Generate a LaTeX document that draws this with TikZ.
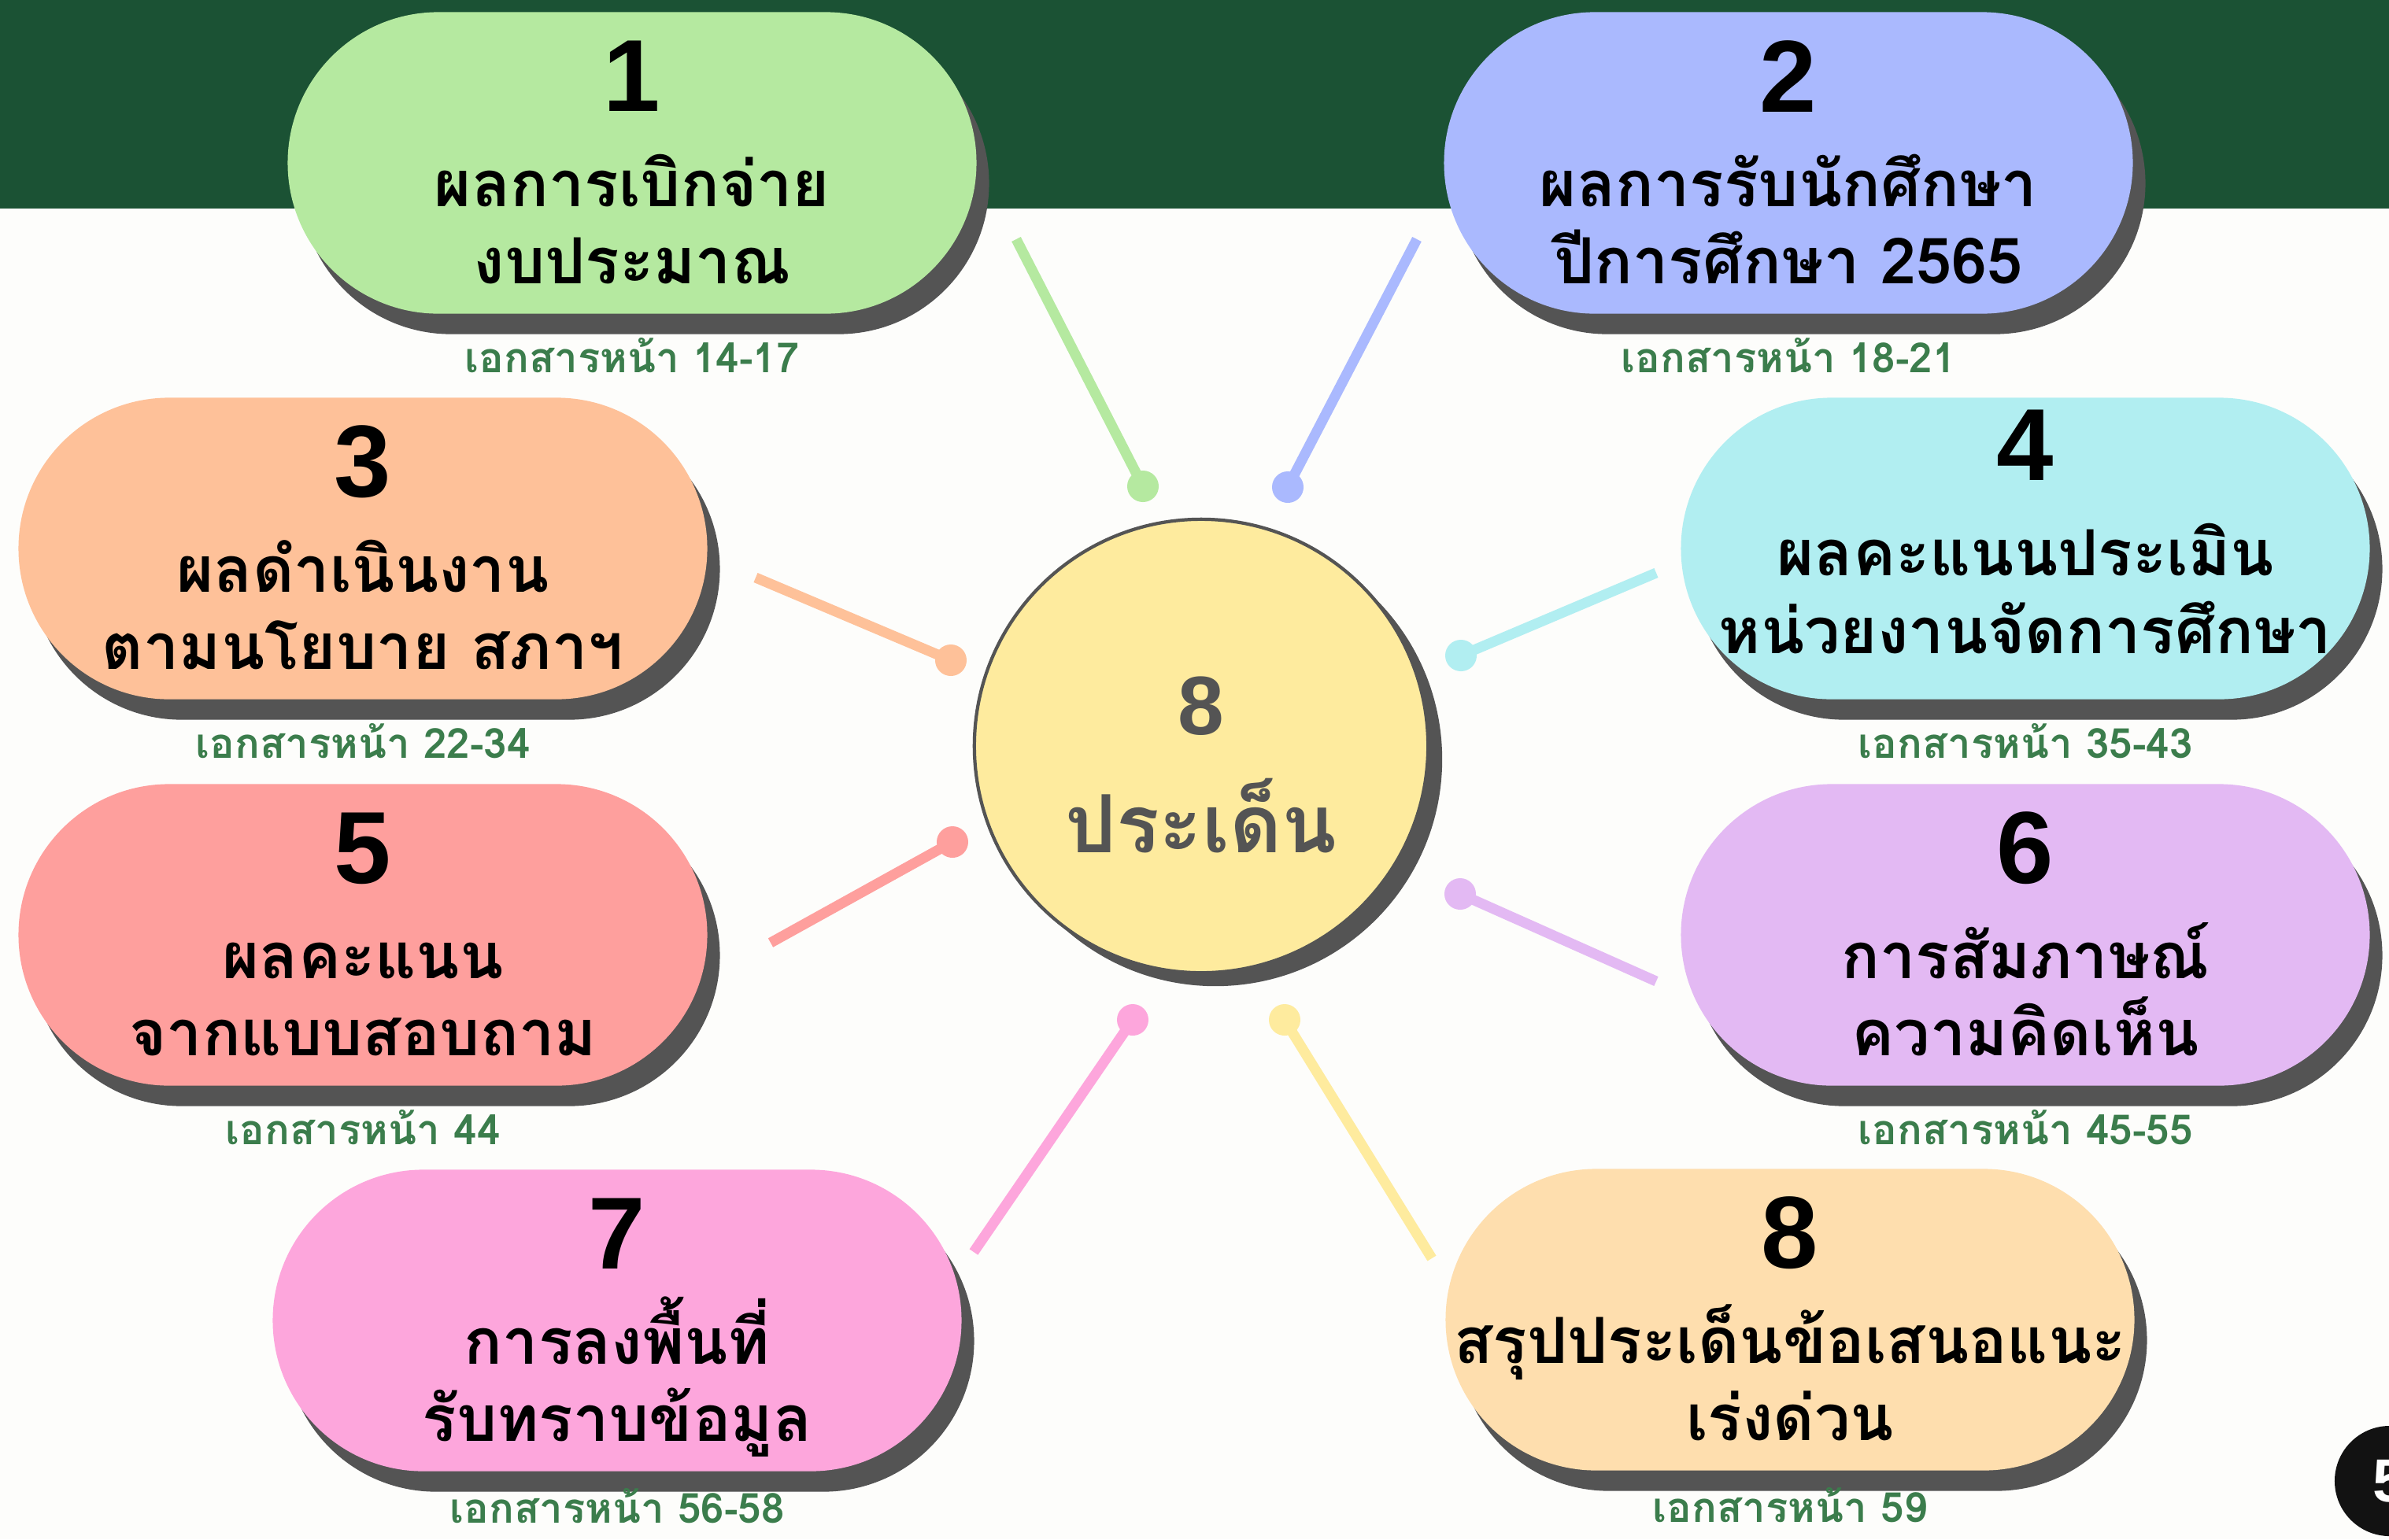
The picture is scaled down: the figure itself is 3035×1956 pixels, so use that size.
\documentclass[tikz,border=0pt]{standalone}
\usepackage{fontspec}
\setmainfont{Liberation Sans}
\newfontfamily\thaifont[Script=Thai]{Loma}
\usetikzlibrary{shapes.misc,shadows}

\definecolor{band}{HTML}{1B5234}
\definecolor{paper}{HTML}{FDFDFB}
\definecolor{shade}{HTML}{545454}
\definecolor{pagegreen}{HTML}{3B7D4C}
\definecolor{mint}{HTML}{B5E9A0}
\definecolor{periwinkle}{HTML}{AAB9FE}
\definecolor{apricot}{HTML}{FEC199}
\definecolor{aqua}{HTML}{B1EEF1}
\definecolor{salmon}{HTML}{FE9F9D}
\definecolor{lilac}{HTML}{E3B9F3}
\definecolor{candy}{HTML}{FDA6DC}
\definecolor{wheat}{HTML}{FEDEAE}
\definecolor{butter}{HTML}{FEEB9E}

\begin{document}
\begin{tikzpicture}[x=0.01cm,y=-0.01cm,
        pill/.style={rounded rectangle,minimum width=8.98cm,minimum height=3.83cm,
          drop shadow={shadow xshift=0.16cm,shadow yshift=-0.26cm,fill=shade,opacity=1}},
        num/.style={font=\bfseries\fontsize{37}{37}\selectfont},
        topic/.style={anchor=base,font=\thaifont\bfseries\fontsize{23}{23}\selectfont},
        page/.style={anchor=base,inner sep=0pt,text=pagegreen,font=\thaifont\bfseries\fontsize{15}{15}\selectfont},
        spoke/.style={line width=3.7pt},
        dot/.style={circle,minimum size=0.4cm,inner sep=0pt}]

  \useasboundingbox (0,0) rectangle (3035,1956);
  \clip (0,0) rectangle (3035,1956);
  \fill[paper] (0,0) rectangle (3035,1956);
  \fill[band] (0,0) rectangle (3035,265);

  % spokes
  \coordinate (e1) at (1291,304);
  \coordinate (e2) at (1800,304);
  \coordinate (e3) at (960,734);
  \coordinate (e4) at (2104,728);
  \coordinate (e5) at (979,1198);
  \coordinate (e6) at (2104,1247);
  \coordinate (e7) at (1237,1591);
  \coordinate (e8) at (1819,1599);
  \node[dot,fill=mint] (d1) at (1452,618) {};
  \node[dot,fill=periwinkle] (d2) at (1636,619) {};
  \node[dot,fill=apricot] (d3) at (1208,839) {};
  \node[dot,fill=aqua] (d4) at (1856,833) {};
  \node[dot,fill=salmon] (d5) at (1210,1070) {};
  \node[dot,fill=lilac] (d6) at (1855,1136) {};
  \node[dot,fill=candy] (d7) at (1439,1296) {};
  \node[dot,fill=butter] (d8) at (1632,1296) {};
  \draw[spoke,mint] (e1) -- (d1.center);
  \draw[spoke,periwinkle] (e2) -- (d2.center);
  \draw[spoke,apricot] (e3) -- (d3.center);
  \draw[spoke,aqua] (e4) -- (d4.center);
  \draw[spoke,salmon] (e5) -- (d5.center);
  \draw[spoke,lilac] (e6) -- (d6.center);
  \draw[spoke,candy] (e7) -- (d7.center);
  \draw[spoke,butter] (e8) -- (d8.center);

  % centre
  \node[circle,minimum size=5.76cm,fill=butter,draw=shade,line width=1.2pt,
        drop shadow={shadow xshift=0.18cm,shadow yshift=-0.17cm,fill=shade,opacity=1}] (c) at (1526,948) {};
  \node[text=shade,font=\bfseries\fontsize{30}{30}\selectfont] at ([yshift=0.51cm]c.center) {8};
  \node[anchor=base,text=shade,font=\thaifont\bfseries\fontsize{29}{29}\selectfont] at ([yshift=-1.35cm]c.center) {ประเด็น};

  % topics
  \node[pill,fill=mint] (p1) at (803,207) {};
  \node[pill,fill=periwinkle] (p2) at (2272,207) {};
  \node[pill,fill=apricot] (p3) at (461,697) {};
  \node[pill,fill=aqua] (p4) at (2573,697) {};
  \node[pill,fill=salmon] (p5) at (461,1188) {};
  \node[pill,fill=lilac] (p6) at (2573,1188) {};
  \node[pill,fill=candy] (p7) at (784,1678) {};
  \node[pill,fill=wheat] (p8) at (2274,1677) {};

  \node[num] at ([yshift=1.1cm]p1.center) {1};
  \node[topic] at ([yshift=-0.55cm]p1.center) {ผลการเบิกจ่าย};
  \node[topic] at ([yshift=-1.53cm]p1.center) {งบประมาณ};
  \node[page] at ([yshift=-2.66cm]p1.center) {เอกสารหน้า 14-17};

  \node[num] at ([yshift=1.1cm]p2.center) {2};
  \node[topic] at ([yshift=-0.55cm]p2.center) {ผลการรับนักศึกษา};
  \node[topic] at ([yshift=-1.53cm]p2.center) {ปีการศึกษา 2565};
  \node[page] at ([yshift=-2.66cm]p2.center) {เอกสารหน้า 18-21};

  \node[num] at ([yshift=1.1cm]p3.center) {3};
  \node[topic] at ([yshift=-0.55cm]p3.center) {ผลดำเนินงาน};
  \node[topic] at ([yshift=-1.53cm]p3.center) {ตามนโยบาย สภาฯ};
  \node[page] at ([yshift=-2.66cm]p3.center) {เอกสารหน้า 22-34};

  \node[num] at ([yshift=1.31cm]p4.center) {4};
  \node[topic] at ([yshift=-0.34cm]p4.center) {ผลคะแนนประเมิน};
  \node[topic] at ([yshift=-1.33cm]p4.center) {หน่วยงานจัดการศึกษา};
  \node[page] at ([yshift=-2.66cm]p4.center) {เอกสารหน้า 35-43};

  \node[num] at ([yshift=1.1cm]p5.center) {5};
  \node[topic] at ([yshift=-0.55cm]p5.center) {ผลคะแนน};
  \node[topic] at ([yshift=-1.53cm]p5.center) {จากแบบสอบถาม};
  \node[page] at ([yshift=-2.66cm]p5.center) {เอกสารหน้า 44};

  \node[num] at ([yshift=1.1cm]p6.center) {6};
  \node[topic] at ([yshift=-0.55cm]p6.center) {การสัมภาษณ์};
  \node[topic] at ([yshift=-1.53cm]p6.center) {ความคิดเห็น};
  \node[page] at ([yshift=-2.66cm]p6.center) {เอกสารหน้า 45-55};

  \node[num] at ([yshift=1.1cm]p7.center) {7};
  \node[topic] at ([yshift=-0.55cm]p7.center) {การลงพื้นที่};
  \node[topic] at ([yshift=-1.53cm]p7.center) {รับทราบข้อมูล};
  \node[page] at ([yshift=-2.57cm]p7.center) {เอกสารหน้า 56-58};

  \node[num] at ([yshift=1.1cm]p8.center) {8};
  \node[topic] at ([yshift=-0.55cm]p8.center) {สรุปประเด็นข้อเสนอแนะ};
  \node[topic] at ([yshift=-1.53cm]p8.center) {เร่งด่วน};
  \node[page] at ([yshift=-2.57cm]p8.center) {เอกสารหน้า 59};

  \node[circle,fill=black!93,minimum size=1.4cm,text=white,
        font=\bfseries\fontsize{22}{22}\selectfont] (badge) at (3036,1882) {5};
\end{tikzpicture}
\end{document}
